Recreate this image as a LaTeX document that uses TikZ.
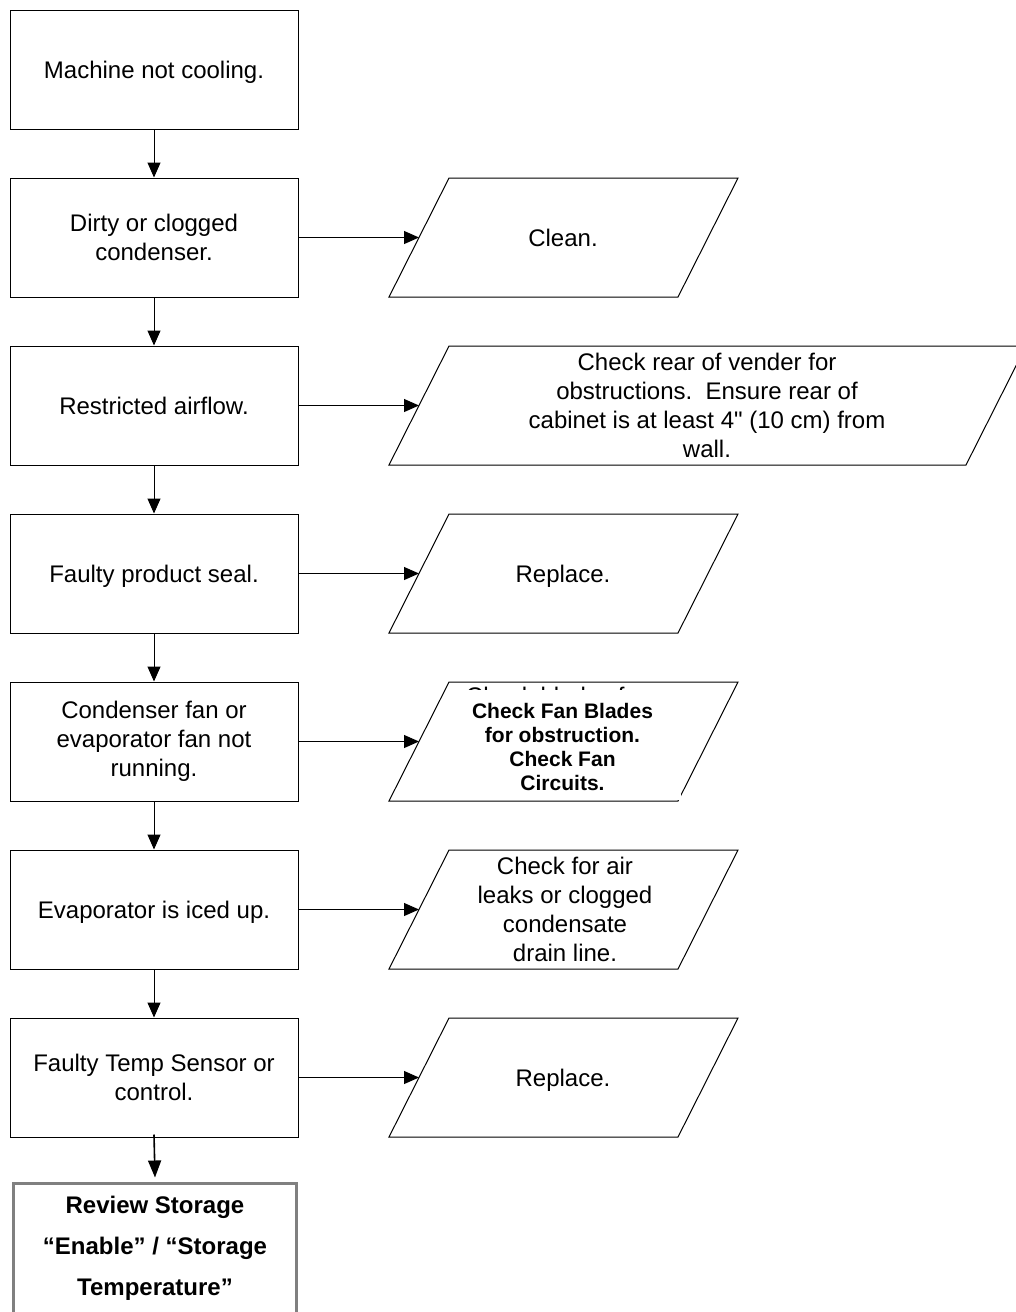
\documentclass[tikz,border=0pt]{standalone}
\usepackage{fontspec}
\setmainfont{Liberation Sans}[Ligatures=TeXOff]
\usetikzlibrary{arrows.meta}
\definecolor{boxgray}{RGB}{128,128,128}
\begin{document}
\begin{tikzpicture}[x=1pt,y=-1pt,line width=1pt,
  stepbox/.style={draw, rectangle, minimum width=288pt, minimum height=119pt,
    inner sep=0pt, align=center, font=\fontsize{24}{29}\selectfont},
  txt/.style={align=center, inner sep=0pt, font=\fontsize{24}{29}\selectfont},
  boldtxt/.style={align=center, inner sep=0pt, font=\bfseries\fontsize{21}{24}\selectfont},
  flow/.style={-{Triangle[width=13pt,length=15pt]}},
]
\useasboundingbox (0,0) rectangle (1016,1312);
\clip (0,0) rectangle (1016,1312);

% fault chain
\node[stepbox, text depth=0pt] (b1) at (154,69.5)   {Machine not cooling.};
\node[stepbox] (b2) at (154,237.5)  {Dirty or clogged\\condenser.};
\node[stepbox] (b3) at (154,405.5)  {Restricted airflow.};
\node[stepbox, text depth=0pt] (b4) at (154,573.5)  {Faulty product seal.};
\node[stepbox] (b5) at (154,741.5)  {Condenser fan or\\evaporator fan not\\running.};
\node[stepbox, text depth=0pt] (b6) at (154,909.5)  {Evaporator is iced up.};
\node[stepbox] (b7) at (154,1077.5) {Faulty Temp Sensor or\\control.};

% final check box
\node[draw=boxgray, line width=3pt, minimum width=283pt, minimum height=140pt,
      anchor=north, inner sep=0pt] (rev) at (155,1181.5) {};
\node[align=center, inner sep=0pt, font=\bfseries\fontsize{24}{41}\selectfont]
      (revtxt) at (155,1248) {Review Storage\\“Enable” / “Storage\\Temperature”};

% remedies
\draw (449,178) -- (738,178) -- (678,297) -- (389,297) -- cycle;
\coordinate (p1in) at (419,237.5);
\node[txt] (r1) at (563,237.5) {Clean.};

\draw (449,346) -- (1026,346) -- (966,465) -- (389,465) -- cycle;
\coordinate (p2in) at (419,405.5);
\node[txt] (r2) at (707,405.5) {Check rear of vender for\\obstructions.\ \ Ensure rear of\\cabinet is at least 4" (10 cm) from\\wall.};

\draw (449,514) -- (738,514) -- (678,633) -- (389,633) -- cycle;
\coordinate (p3in) at (419,573.5);
\node[txt, text depth=0pt] (r3) at (563,573.5) {Replace.};

\draw (449,682) -- (738,682) -- (678,801) -- (389,801) -- cycle;
\coordinate (p4in) at (419,741.5);
\node[txt, anchor=base] (r4old) at (556,704.5) {Check blades for};
\fill[white] (452,690) rectangle (681,799.5);
\node[boldtxt] (r4) at (562.5,747) {Check Fan Blades\\for obstruction.\\Check Fan\\Circuits.};

\draw (449,850) -- (738,850) -- (678,969) -- (389,969) -- cycle;
\coordinate (p5in) at (419,909.5);
\node[txt] (r5) at (565,909.5) {Check for air\\leaks or clogged\\condensate\\drain line.};

\draw (449,1018) -- (738,1018) -- (678,1137) -- (389,1137) -- cycle;
\coordinate (p6in) at (419,1077.5);
\node[txt, text depth=0pt] (r6) at (563,1077.5) {Replace.};

% connectors
\draw[flow] (b1.south) -- (b2.north);
\draw[flow] (b2.south) -- (b3.north);
\draw[flow] (b3.south) -- (b4.north);
\draw[flow] (b4.south) -- (b5.north);
\draw[flow] (b5.south) -- (b6.north);
\draw[flow] (b6.south) -- (b7.north);
\draw[line width=1.6pt, -{Triangle[width=13pt,length=17pt]}] ([yshift=3pt]b7.south) -- ([yshift=4pt]rev.north);

\draw[flow] (b2.east) -- (p1in);
\draw[flow] (b3.east) -- (p2in);
\draw[flow] (b4.east) -- (p3in);
\draw[flow] (b5.east) -- (p4in);
\draw[flow] (b6.east) -- (p5in);
\draw[flow] (b7.east) -- (p6in);
\end{tikzpicture}
\end{document}
